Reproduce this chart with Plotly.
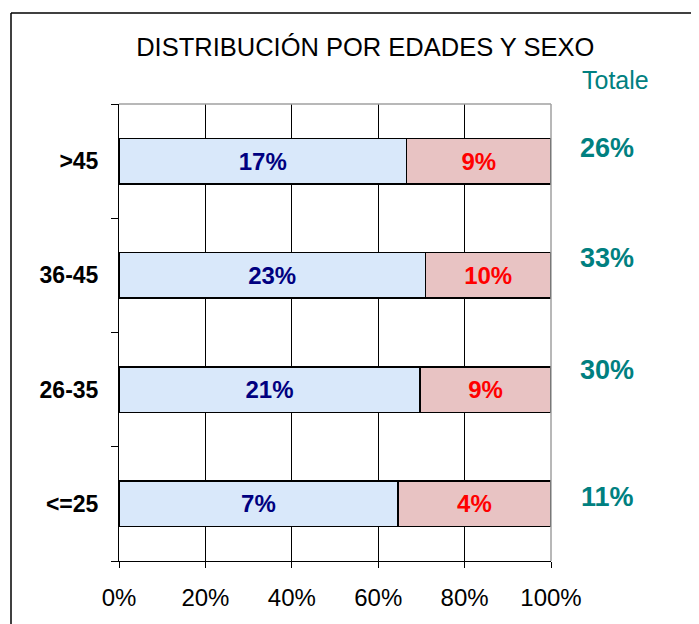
import plotly.graph_objects as go

categories = ["<=25", "26-35", "36-45", ">45"]
male = [7.1, 20.9, 23.4, 17.3]
female = [3.9, 9.1, 9.6, 8.7]
totals = [11, 30, 33, 26]

FONT = "Liberation Sans, Arial, sans-serif"

fig = go.Figure()
fig.add_trace(go.Bar(
    y=categories, x=male, orientation="h", name="Hombres",
    marker=dict(color="#d9e8fa", line=dict(color="#000000", width=1.5)),
    text=[f"{v:.0f}%" for v in male], textposition="inside",
    insidetextanchor="middle",
    textfont=dict(family=FONT, size=24, color="#000080", weight="bold"),
    hoverinfo="skip",
))
fig.add_trace(go.Bar(
    y=categories, x=female, orientation="h", name="Mujeres",
    marker=dict(color="#e8c3c3", line=dict(color="#000000", width=1.5)),
    text=[f"{v:.0f}%" for v in female], textposition="inside",
    insidetextanchor="middle",
    textfont=dict(family=FONT, size=24, color="#ff0000", weight="bold"),
    hoverinfo="skip",
))

shifts = [7, 20, 17, 13]
annotations = []
for cat, tot, sh in zip(categories, totals, shifts):
    annotations.append(dict(
        x=1.13, xref="paper", y=cat, yref="y", yshift=sh,
        text=f"<b>{tot}%</b>", showarrow=False,
        font=dict(family=FONT, size=27, color="#008080"),
        xanchor="center", yanchor="middle",
    ))
annotations.append(dict(
    x=1.15, xref="paper", y=1.0525, yref="paper", yanchor="middle",
    text="Totale", showarrow=False, xanchor="center",
    font=dict(family=FONT, size=25, color="#008080"),
))

fig.update_layout(
    width=691, height=616,
    margin=dict(l=111, r=148, t=96, b=63),
    paper_bgcolor="white", plot_bgcolor="white",
    barmode="stack", barnorm="percent", bargap=0.6,
    showlegend=False,
    title=dict(text="DISTRIBUCIÓN POR EDADES Y SEXO", x=0.517, xanchor="center",
               y=0.9367, yanchor="middle",
               font=dict(family=FONT, size=25.5, color="#000000")),
    xaxis=dict(range=[0, 100], dtick=20, ticksuffix="%",
               showgrid=True, gridcolor="#000000", gridwidth=1,
               showline=True, linecolor="#000000", linewidth=1,
               ticks="outside", ticklen=6, tickcolor="#000000",
               tickfont=dict(family=FONT, size=24, color="#000000"),
               ticklabelstandoff=9,
               zeroline=False, fixedrange=True),
    yaxis=dict(showgrid=False, showline=True, linecolor="#000000", linewidth=1,
               ticks="outside", ticklen=7, tickcolor="#000000", tickson="boundaries",
               tickfont=dict(family=FONT, size=23, color="#000000", weight="bold"),
               ticklabelstandoff=15, fixedrange=True),
    annotations=annotations,
    shapes=[
        dict(type="line", xref="paper", yref="paper", x0=0, x1=1, y0=1, y1=1,
             line=dict(color="#a0a0a0", width=1.5)),
        dict(type="line", xref="paper", yref="paper", x0=1, x1=1, y0=0, y1=1,
             line=dict(color="#a0a0a0", width=1.5)),
        dict(type="line", xref="paper", yref="paper", x0=-0.25, x1=-0.25, y0=-0.2, y1=1.199,
             line=dict(color="#000000", width=1.5)),
        dict(type="line", xref="paper", yref="paper", x0=-0.25, x1=1.5, y0=1.199, y1=1.199,
             line=dict(color="#000000", width=1.5)),
    ],
)

fig.write_html("out.html")
